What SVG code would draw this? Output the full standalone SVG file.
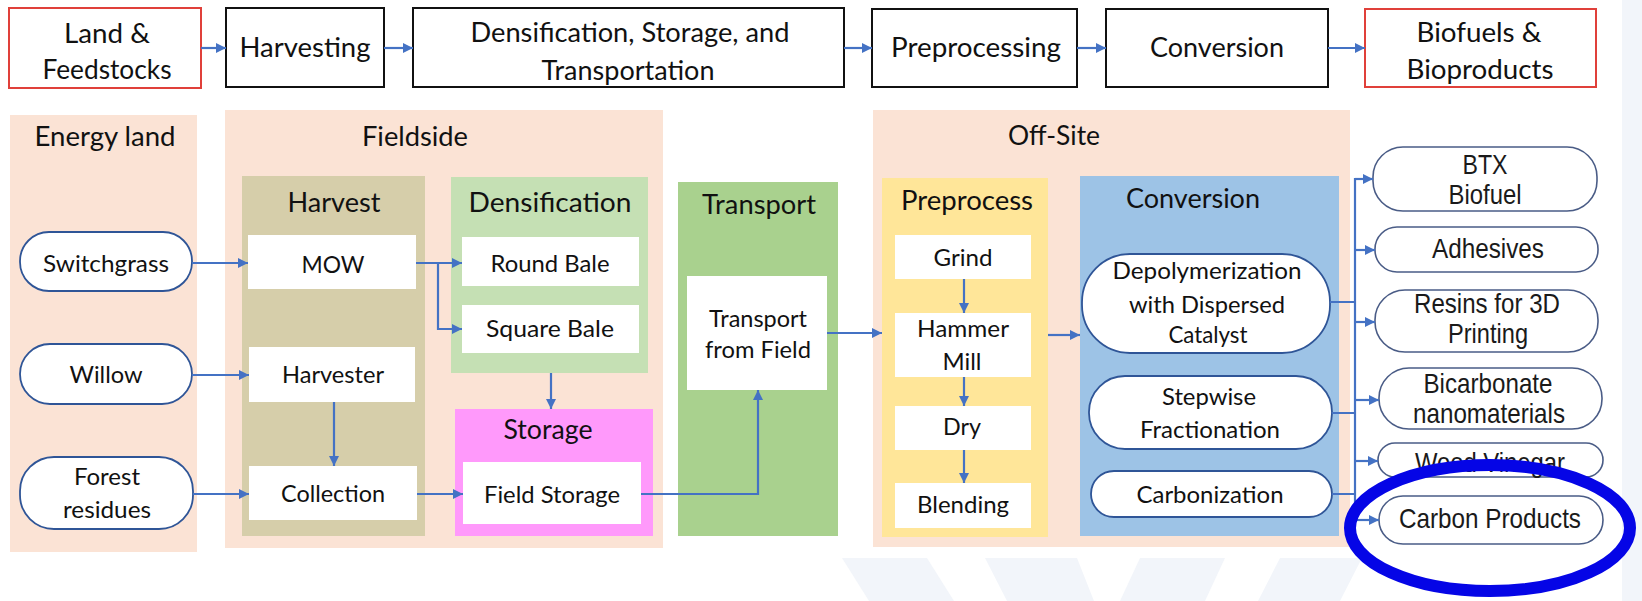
<svg xmlns="http://www.w3.org/2000/svg" width="1642" height="601" viewBox="0 0 1642 601">
<defs>
<marker id="ah" markerUnits="userSpaceOnUse" markerWidth="10" markerHeight="10" refX="10" refY="5" orient="auto">
<path d="M0,0 L10,5 L0,10 z" fill="#4472C4"/>
</marker>
<style>
.t{font-family:Lato,"Open Sans","Liberation Sans",sans-serif;fill:#111;text-anchor:middle}
.a{font-family:"Liberation Sans",Arial,sans-serif;fill:#1a1a1a;text-anchor:middle;font-size:28px}
.top{font-size:27px}
.hd{font-size:26px}
.bx{font-size:23px}
.tb{fill:#fff;stroke:#111;stroke-width:2}
.tr{fill:#fff;stroke:#E0403A;stroke-width:2}
.peach{fill:#FBE3D5}
.wb{fill:#fff}
.pl{fill:#fff;stroke:#2F5597;stroke-width:1.8}
.pp{fill:#fff;stroke:#4A5C86;stroke-width:1.6}
.cn{fill:none;stroke:#4472C4;stroke-width:2.2}
.wm{fill:#F2F5FA}
</style>
</defs>
<rect width="1642" height="601" fill="#fff"/>
<g id="watermark">
<rect class="wm" x="1622" y="0" width="20" height="601"/>
<polygon class="wm" points="842,558 927,558 954,601 869,601"/>
<polygon class="wm" points="985,558 1077,558 1094,601 1007,601"/>
<polygon class="wm" points="1140,558 1225,558 1205,601 1120,601"/>
<polygon class="wm" points="1280,558 1362,558 1340,601 1258,601"/>
</g>

<g id="top-row">
<g id="land"><rect class="tr" x="9" y="8" width="192" height="80"/>
<text class="t top" x="107" y="43" textLength="86" lengthAdjust="spacingAndGlyphs">Land &amp;</text>
<text class="t top" x="107" y="79" textLength="129" lengthAdjust="spacingAndGlyphs">Feedstocks</text></g>
<g id="harvesting"><rect class="tb" x="226" y="8" width="158" height="79"/>
<text class="t top" x="305" y="57" textLength="131" lengthAdjust="spacingAndGlyphs">Harvesting</text></g>
<g id="dst"><rect class="tb" x="413" y="8" width="431" height="79"/>
<text class="t top" x="630" y="42" textLength="319" lengthAdjust="spacingAndGlyphs">Densification, Storage, and</text>
<text class="t top" x="628" y="80" textLength="173" lengthAdjust="spacingAndGlyphs">Transportation</text></g>
<g id="preprocessing"><rect class="tb" x="872" y="9" width="205" height="78"/>
<text class="t top" x="976" y="57" textLength="170" lengthAdjust="spacingAndGlyphs">Preprocessing</text></g>
<g id="conversion-top"><rect class="tb" x="1106" y="9" width="222" height="78"/>
<text class="t top" x="1217" y="57" textLength="134" lengthAdjust="spacingAndGlyphs">Conversion</text></g>
<g id="biofuels"><rect class="tr" x="1365" y="9" width="231" height="78"/>
<text class="t top" x="1479" y="42" textLength="125" lengthAdjust="spacingAndGlyphs">Biofuels &amp;</text>
<text class="t top" x="1480" y="79" textLength="147" lengthAdjust="spacingAndGlyphs">Bioproducts</text></g>
</g>

<g id="panels">
<g id="energy-land"><rect class="peach" x="10" y="115" width="187" height="437"/>
<text class="t hd" x="105" y="146" textLength="141" lengthAdjust="spacingAndGlyphs">Energy land</text></g>
<g id="fieldside"><rect class="peach" x="225" y="110" width="438" height="438"/>
<text class="t hd" x="415" y="146" textLength="106" lengthAdjust="spacingAndGlyphs">Fieldside</text></g>
<g id="harvest"><rect x="242" y="176" width="183" height="360" fill="#D6CEAA"/>
<text class="t hd" x="334" y="212" textLength="93" lengthAdjust="spacingAndGlyphs">Harvest</text></g>
<g id="densification"><rect x="451" y="177" width="197" height="196" fill="#C5E0B4"/>
<text class="t hd" x="550" y="212" textLength="163" lengthAdjust="spacingAndGlyphs">Densification</text></g>
<g id="storage"><rect x="455" y="409" width="198" height="127" fill="#FF99FB"/>
<text class="t hd" x="548" y="439" textLength="89" lengthAdjust="spacingAndGlyphs">Storage</text></g>
<g id="transport"><rect x="678" y="182" width="160" height="354" fill="#A9D18E"/>
<text class="t hd" x="759" y="214" textLength="114" lengthAdjust="spacingAndGlyphs">Transport</text></g>
<g id="off-site"><rect class="peach" x="873" y="110" width="477" height="437"/>
<text class="t hd" x="1054" y="145" textLength="92" lengthAdjust="spacingAndGlyphs">Off-Site</text></g>
<g id="preprocess"><rect x="882" y="178" width="166" height="359" fill="#FFE699"/>
<text class="t hd" x="967" y="210" textLength="132" lengthAdjust="spacingAndGlyphs">Preprocess</text></g>
<g id="conversion"><rect x="1080" y="176" width="259" height="360" fill="#9DC3E6"/>
<text class="t hd" x="1193" y="208" textLength="134" lengthAdjust="spacingAndGlyphs">Conversion</text></g>
</g>

<g id="feedstocks">
<g id="switchgrass"><rect class="pl" x="20" y="232" width="172" height="59" rx="29"/>
<text class="t bx" x="106" y="272" textLength="126" lengthAdjust="spacingAndGlyphs">Switchgrass</text></g>
<g id="willow"><rect class="pl" x="20" y="344" width="172" height="60" rx="30"/>
<text class="t bx" x="106" y="383" textLength="73" lengthAdjust="spacingAndGlyphs">Willow</text></g>
<g id="forest"><rect class="pl" x="20" y="457" width="173" height="72" rx="34"/>
<text class="t bx" x="107" y="485" textLength="66" lengthAdjust="spacingAndGlyphs">Forest</text>
<text class="t bx" x="107" y="518" textLength="88" lengthAdjust="spacingAndGlyphs">residues</text></g>
</g>

<g id="steps">
<g id="mow"><rect class="wb" x="248" y="235" width="168" height="54"/>
<text class="t bx" x="333" y="273" textLength="63" lengthAdjust="spacingAndGlyphs">MOW</text></g>
<g id="harvester"><rect class="wb" x="249" y="347" width="166" height="55"/>
<text class="t bx" x="333" y="383" textLength="102" lengthAdjust="spacingAndGlyphs">Harvester</text></g>
<g id="collection"><rect class="wb" x="249" y="466" width="168" height="54"/>
<text class="t bx" x="333" y="502" textLength="104" lengthAdjust="spacingAndGlyphs">Collection</text></g>
<g id="round-bale"><rect class="wb" x="462" y="237" width="177" height="49"/>
<text class="t bx" x="550" y="272" textLength="119" lengthAdjust="spacingAndGlyphs">Round Bale</text></g>
<g id="square-bale"><rect class="wb" x="462" y="305" width="177" height="48"/>
<text class="t bx" x="550" y="337" textLength="128" lengthAdjust="spacingAndGlyphs">Square Bale</text></g>
<g id="field-storage"><rect class="wb" x="463" y="462" width="178" height="62"/>
<text class="t bx" x="552" y="503" textLength="136" lengthAdjust="spacingAndGlyphs">Field Storage</text></g>
<g id="transport-from-field"><rect class="wb" x="687" y="276" width="140" height="114"/>
<text class="t bx" x="758" y="327" textLength="98" lengthAdjust="spacingAndGlyphs">Transport</text>
<text class="t bx" x="758" y="358" textLength="106" lengthAdjust="spacingAndGlyphs">from Field</text></g>
<g id="grind"><rect class="wb" x="895" y="235" width="136" height="44"/>
<text class="t bx" x="963" y="266" textLength="59" lengthAdjust="spacingAndGlyphs">Grind</text></g>
<g id="hammer-mill"><rect class="wb" x="895" y="313" width="136" height="64"/>
<text class="t bx" x="963" y="337" textLength="92" lengthAdjust="spacingAndGlyphs">Hammer</text>
<text class="t bx" x="962" y="370" textLength="39" lengthAdjust="spacingAndGlyphs">Mill</text></g>
<g id="dry"><rect class="wb" x="895" y="406" width="136" height="44"/>
<text class="t bx" x="962" y="435" textLength="38" lengthAdjust="spacingAndGlyphs">Dry</text></g>
<g id="blending"><rect class="wb" x="895" y="483" width="136" height="45"/>
<text class="t bx" x="963" y="513" textLength="92" lengthAdjust="spacingAndGlyphs">Blending</text></g>
<g id="depolymerization"><rect class="pl" x="1082" y="254" width="248" height="99" rx="48"/>
<text class="t bx" x="1207" y="279" textLength="189" lengthAdjust="spacingAndGlyphs">Depolymerization</text>
<text class="t bx" x="1207" y="313" textLength="156" lengthAdjust="spacingAndGlyphs">with Dispersed</text>
<text class="t bx" x="1208" y="343" textLength="79" lengthAdjust="spacingAndGlyphs">Catalyst</text></g>
<g id="stepwise"><rect class="pl" x="1089" y="376" width="243" height="73" rx="36"/>
<text class="t bx" x="1209" y="405" textLength="94" lengthAdjust="spacingAndGlyphs">Stepwise</text>
<text class="t bx" x="1210" y="438" textLength="140" lengthAdjust="spacingAndGlyphs">Fractionation</text></g>
<g id="carbonization"><rect class="pl" x="1091" y="471" width="241" height="46" rx="23"/>
<text class="t bx" x="1210" y="503" textLength="147" lengthAdjust="spacingAndGlyphs">Carbonization</text></g>
</g>

<g id="products">
<g id="btx"><rect class="pp" x="1373" y="147" width="224" height="64" rx="30"/>
<text class="a" x="1485" y="174" textLength="45" lengthAdjust="spacingAndGlyphs">BTX</text>
<text class="a" x="1485" y="204" textLength="73" lengthAdjust="spacingAndGlyphs">Biofuel</text></g>
<g id="adhesives"><rect class="pp" x="1375" y="227" width="223" height="45" rx="22"/>
<text class="a" x="1488" y="258" textLength="112" lengthAdjust="spacingAndGlyphs">Adhesives</text></g>
<g id="resins"><rect class="pp" x="1375" y="290" width="223" height="62" rx="30"/>
<text class="a" x="1487" y="313" textLength="146" lengthAdjust="spacingAndGlyphs">Resins for 3D</text>
<text class="a" x="1488" y="343" textLength="80" lengthAdjust="spacingAndGlyphs">Printing</text></g>
<g id="bicarbonate"><rect class="pp" x="1379" y="368" width="223" height="61" rx="30"/>
<text class="a" x="1488" y="393" textLength="129" lengthAdjust="spacingAndGlyphs">Bicarbonate</text>
<text class="a" x="1489" y="423" textLength="152" lengthAdjust="spacingAndGlyphs">nanomaterials</text></g>
<g id="wood-vinegar"><rect class="pp" x="1378" y="443" width="225" height="34" rx="17"/>
<text class="a" x="1490" y="472" textLength="150" lengthAdjust="spacingAndGlyphs">Wood Vinegar</text></g>
<g id="carbon-products"><rect class="pp" x="1379" y="496" width="224" height="48" rx="24"/>
<text class="a" x="1490" y="528" textLength="182" lengthAdjust="spacingAndGlyphs">Carbon Products</text></g>
</g>

<g id="connectors">
<path class="cn" marker-end="url(#ah)" d="M201,48 H226"/>
<path class="cn" marker-end="url(#ah)" d="M384,48 H413"/>
<path class="cn" marker-end="url(#ah)" d="M844,48 H872"/>
<path class="cn" marker-end="url(#ah)" d="M1077,48 H1106"/>
<path class="cn" marker-end="url(#ah)" d="M1328,48 H1365"/>
<path class="cn" marker-end="url(#ah)" d="M192,263 H248"/>
<path class="cn" marker-end="url(#ah)" d="M416,263 H462"/>
<path class="cn" marker-end="url(#ah)" d="M438,263 V329 H462"/>
<path class="cn" marker-end="url(#ah)" d="M192,375 H249"/>
<path class="cn" marker-end="url(#ah)" d="M334,402 V466"/>
<path class="cn" marker-end="url(#ah)" d="M193,494 H249"/>
<path class="cn" marker-end="url(#ah)" d="M417,494 H463"/>
<path class="cn" marker-end="url(#ah)" d="M551,373 V409"/>
<path class="cn" marker-end="url(#ah)" d="M641,494 H758 V390"/>
<path class="cn" marker-end="url(#ah)" d="M827,333 H882"/>
<path class="cn" marker-end="url(#ah)" d="M964,279 V313"/>
<path class="cn" marker-end="url(#ah)" d="M964,377 V406"/>
<path class="cn" marker-end="url(#ah)" d="M964,450 V483"/>
<path class="cn" marker-end="url(#ah)" d="M1048,335 H1080"/>
<path class="cn" d="M1330,302 H1355 M1332,413 H1355 M1332,494 H1355 M1355,178 V521"/>
<path class="cn" marker-end="url(#ah)" d="M1355,179 H1373"/>
<path class="cn" marker-end="url(#ah)" d="M1355,250 H1375"/>
<path class="cn" marker-end="url(#ah)" d="M1355,322 H1375"/>
<path class="cn" marker-end="url(#ah)" d="M1355,400 H1379"/>
<path class="cn" marker-end="url(#ah)" d="M1355,461 H1378"/>
<path class="cn" marker-end="url(#ah)" d="M1355,520 H1379"/>
</g>

<g id="highlight">
<ellipse cx="1490" cy="528" rx="140" ry="63" fill="none" stroke="#0505E6" stroke-width="12"/>
</g>
</svg>
